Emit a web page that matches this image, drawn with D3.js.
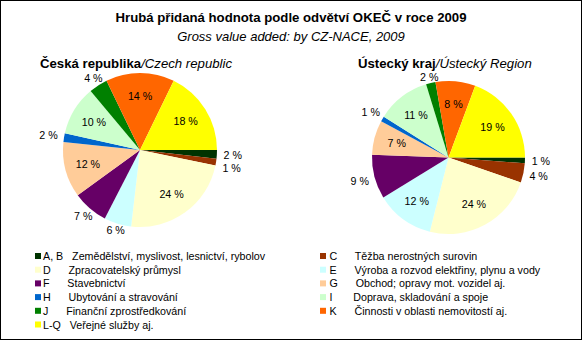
<!DOCTYPE html>
<html>
<head>
<meta charset="utf-8">
<script src="https://cdn.jsdelivr.net/npm/d3@7"></script>
<style>
html,body{margin:0;padding:0;background:#fff;}
svg{display:block;font-family:"Liberation Sans",Arial,sans-serif;}
</style>
</head>
<body>
<svg id="chart" width="583" height="341"></svg>
<script>
// ---- data ----
const codes = ["A, B","C","D","E","F","G","H","I","J","K","L-Q"];
const names = [
  "Zemědělství, myslivost, lesnictví, rybolov",
  "Těžba nerostných surovin",
  "Zpracovatelský průmysl",
  "Výroba a rozvod elektřiny, plynu a vody",
  "Stavebnictví",
  "Obchod; opravy mot. vozidel aj.",
  "Ubytování a stravování",
  "Doprava, skladování a spoje",
  "Finanční zprostředkování",
  "Činnosti v oblasti nemovitostí aj.",
  "Veřejné služby aj."
];
const czValues = [1.8, 1.4, 23.5, 5.7, 7.4, 11.6, 1.8, 10.4, 3.9, 14.3, 17.7];
const ulValues = [1.2, 4.1, 23.6, 12.3, 9.3, 7.3, 1.1, 11.3, 2.0, 8.4, 19.3];
const colors = ["#003300","#993300","#FFFFCC","#CCFFFF","#660066","#FFCC99","#0066CC","#CCFFCC","#008000","#FF6600","#FFFF00"];
// spacing between code and description in the legend
const legendGap = [3,6,6,6,6,6,6,7,6,6,3];
// slices whose labels sit outside the pie
const czOutside = [0,1,3,4,6,8];
const ulOutside = [0,1,4,6,8];

const svg = d3.select("#chart");
svg.append("rect").attr("x",0.5).attr("y",0.5).attr("width",581).attr("height",339)
  .attr("fill","#fff").attr("stroke","#000").attr("stroke-width",1);

svg.append("text").attr("x",291).attr("y",22).attr("text-anchor","middle")
  .attr("font-size","13.2px").attr("font-weight","bold").text("Hrubá přidaná hodnota podle odvětví OKEČ v roce 2009");
svg.append("text").attr("x",291).attr("y",41).attr("text-anchor","middle")
  .attr("font-size","13px").attr("font-style","italic").text("Gross value added: by CZ-NACE, 2009");

function header(x, bold, ital){
  const t = svg.append("text").attr("x",x).attr("y",68).attr("font-size","13.2px");
  t.append("tspan").attr("font-weight","bold").text(bold);
  t.append("tspan").attr("font-style","italic").text(ital);
}
header(40, "Česká republika", "/Czech republic");
header(358, "Ústecký kraj", "/Ústecký Region");

const pie = d3.pie().sort(null).startAngle(Math.PI/2).endAngle(Math.PI/2 + 2*Math.PI);

function drawPie(values, cx, cy, r, outside){
  const g = svg.append("g").attr("transform",`translate(${cx},${cy})`);
  const arcs = pie(values);
  const arc = d3.arc().innerRadius(0).outerRadius(r);
  g.selectAll("path").data(arcs).enter().append("path")
    .attr("d",arc).attr("fill",(d,i)=>colors[i]);
  // label positions
  const pos = arcs.map((d,i)=>{
    const a = (d.startAngle + d.endAngle)/2;
    const s = Math.sin(a), c = -Math.cos(a);
    const out = outside.includes(i);
    const dist = out ? r + 6 + 10*s*s : 0.7*r;
    return {x: s*dist, y: c*dist, out, text: Math.round(d.data) + " %"};
  });
  // simple overlap resolution for outside labels
  for (let k = 1; k < pos.length; k++) {
    const p = pos[k], q = pos[k-1];
    if (p.out && q.out && Math.abs(p.x - q.x) < 24 && Math.abs(p.y - q.y) < 13) {
      p.y = q.y + (p.y >= q.y ? 13 : -13);
    }
  }
  g.selectAll("text").data(pos).enter().append("text")
    .attr("font-size","10.7px").attr("text-anchor","middle").attr("dy","0.36em")
    .attr("x",d=>d.x).attr("y",d=>d.y).text(d=>d.text);
}
drawPie(czValues, 140, 150, 77, czOutside);
drawPie(ulValues, 448.5, 157.5, 76.5, ulOutside);

// legend
const leg = svg.append("g").attr("font-size","10.7px");
codes.forEach((c,i)=>{
  const col = i % 2, row = Math.floor(i/2);
  const x = col === 0 ? 35 : 320;
  const y = 256 + row*13.7;
  leg.append("rect").attr("x",x).attr("y",y-3).attr("width",6).attr("height",6).attr("fill",colors[i]);
  leg.append("text").attr("x",x + (col===0?8:9.5)).attr("y",y+4).attr("xml:space","preserve")
    .style("white-space","pre")
    .text(c + " ".repeat(legendGap[i]) + names[i]);
});
</script>
</body>
</html>
